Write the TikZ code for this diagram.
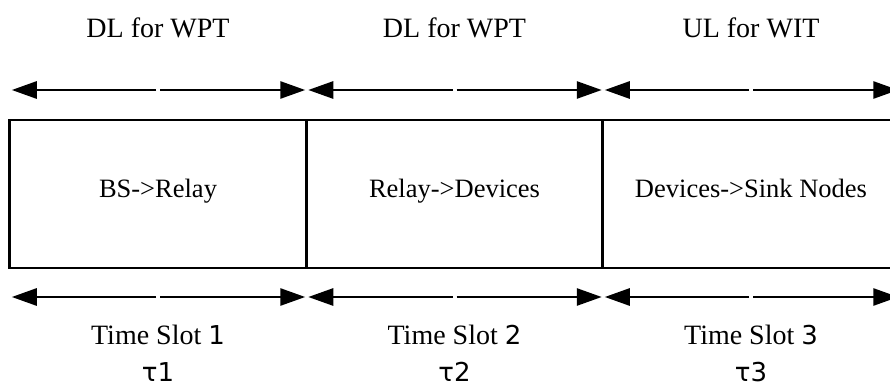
\documentclass[tikz,border=0pt]{standalone}
\usepackage{fontspec}
\setmainfont{Liberation Serif}
\newfontfamily\dejavu{DejaVu Sans}
\usetikzlibrary{arrows.meta,positioning}
\tikzset{
  slotbox/.style={draw,line width=2.6pt,minimum width=296.5pt,minimum height=148pt,
    inner sep=0pt,outer sep=0pt,text height=16pt,text depth=9pt,
    font=\fontsize{26.5}{30}\selectfont},
  half/.style={-{Triangle[length=25pt,width=17pt]},line width=2.8pt},
  toplbl/.style={font=\fontsize{28}{32}\selectfont,inner sep=0pt},
  botlbl/.style={font=\fontsize{28}{37}\selectfont,inner sep=0pt,align=center,anchor=north},
}

\begin{document}
\begin{tikzpicture}[x=1pt,y=1pt]
  \useasboundingbox (0,0) rectangle (890,383);
  % the three time slots
  \node[slotbox] (s1) at (158,189)   {BS->Relay};
  \node[slotbox] (s2) at (454.5,189) {Relay->Devices};
  \node[slotbox] (s3) at (751,189)   {Devices->Sink Nodes};
  % arrows and labels for each slot
  \foreach \i/\lbl in {1/DL for WPT,2/DL for WPT,3/UL for WIT}{
    \coordinate (tl\i) at ([xshift=2pt,yshift=30pt]s\i.north west);
    \coordinate (tm\i) at ([yshift=30pt]s\i.north);
    \coordinate (tr\i) at ([xshift=-1pt,yshift=30pt]s\i.north east);
    \coordinate (bl\i) at ([xshift=2pt,yshift=-29pt]s\i.south west);
    \coordinate (bm\i) at ([yshift=-29pt]s\i.south);
    \coordinate (br\i) at ([xshift=-1pt,yshift=-29pt]s\i.south east);
    \draw[half] ([xshift=-2pt]tm\i) -- (tl\i);
    \draw[half] ([xshift=2pt]tm\i) -- (tr\i);
    \draw[half] ([xshift=-2pt]bm\i) -- (bl\i);
    \draw[half] ([xshift=2pt]bm\i) -- (br\i);
    \node[toplbl] (up\i) at ([yshift=92pt]s\i.north) {\lbl};
    \node[botlbl] (ts\i) at ([yshift=-57pt]s\i.south) {Time Slot {\dejavu\fontsize{26}{37}\selectfont \i}\\{\dejavu\fontsize{26}{37}\selectfont τ\i}};
  }
\end{tikzpicture}
\end{document}
